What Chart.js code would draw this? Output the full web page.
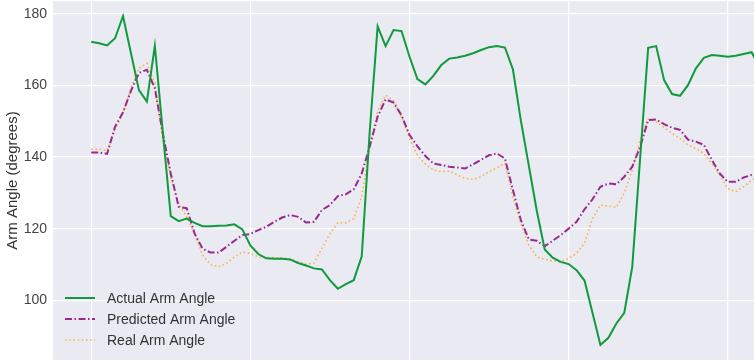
<!DOCTYPE html>
<html>
<head>
<meta charset="utf-8">
<script src="https://cdn.jsdelivr.net/npm/chart.js@4.4.0/dist/chart.umd.min.js"></script>
<style>
    body { margin: 0; background: #ffffff; }
    #chart { display: block; }
</style>
</head>
<body>
<canvas id="chart" width="754" height="362"></canvas>
<script>
// Chart values (one value per frame)
const actualAngle = [
    172.2, 171.8, 171.2, 173.2, 179.4, 169.0, 158.7, 155.5, 171.1, 147.0,
    123.5, 122.1, 122.8, 121.6, 120.7, 120.7, 120.8, 120.9, 121.2, 119.8,
    115.3, 112.9, 111.7, 111.6, 111.6, 111.4, 110.4, 109.7, 108.9, 108.6,
    105.6, 103.2, 104.5, 105.6, 112.3, 147.0, 176.5, 171.0, 175.5, 175.2,
    168.1, 161.8, 160.3, 162.7, 165.7, 167.5, 167.8, 168.3, 169.0, 169.9,
    170.7, 171.0, 170.6, 164.5, 150.2, 137.6, 125.0, 114.2, 111.9, 110.7,
    110.1, 108.4, 105.5, 96.5, 87.5, 89.5, 93.5, 96.5, 109.3, 140.0,
    170.5, 171.0, 161.5, 157.6, 157.1, 160.1, 164.8, 167.7, 168.5, 168.3,
    168.0, 168.3, 168.8, 169.3, 165.0
];
const predictedAngle = [
    141.3, 141.3, 140.9, 148.5, 152.5, 158.5, 163.5, 164.4, 159.2, 146.6,
    135.4, 126.1, 125.7, 118.6, 114.4, 113.3, 113.3, 114.9, 116.6, 118.2,
    118.5, 119.6, 120.5, 121.9, 123.1, 123.8, 123.3, 121.7, 121.9, 125.2,
    126.6, 129.1, 129.6, 131.0, 135.4, 142.9, 151.3, 156.1, 155.2, 151.7,
    146.2, 143.0, 140.3, 138.2, 137.8, 137.3, 137.1, 136.8, 138.0, 139.2,
    140.5, 141.0, 139.6, 130.8, 122.4, 117.0, 116.6, 115.1, 116.6, 118.2,
    120.0, 121.9, 125.4, 128.2, 131.7, 132.6, 132.4, 134.5, 137.3, 142.9,
    150.3, 150.5, 149.2, 148.2, 147.6, 144.9, 144.3, 143.4, 139.2, 135.4,
    133.1, 133.1, 134.3, 135.0, 134.0
];
const realAngle = [
    142.2, 142.2, 141.8, 147.6, 152.2, 159.2, 164.8, 166.2, 160.6, 144.8,
    134.5, 127.0, 123.3, 118.6, 112.6, 110.0, 109.3, 110.3, 112.1, 113.5,
    113.1, 112.1, 111.9, 111.9, 111.8, 111.5, 110.8, 110.1, 110.4, 114.5,
    118.6, 121.6, 121.6, 122.8, 128.9, 142.9, 152.7, 157.3, 155.8, 151.3,
    145.2, 140.5, 138.0, 136.4, 135.9, 136.1, 135.0, 134.0, 133.8, 134.5,
    135.9, 137.0, 138.2, 128.9, 121.4, 115.4, 112.1, 111.4, 111.0, 110.7,
    111.7, 113.1, 115.9, 122.8, 126.6, 126.3, 125.9, 130.0, 136.4, 144.8,
    150.6, 149.9, 148.3, 146.6, 145.2, 143.4, 142.4, 141.0, 138.2, 135.0,
    131.2, 130.3, 131.7, 133.6, 134.5
];
const seriesLabels = ['Actual Arm Angle', 'Predicted Arm Angle', 'Real Arm Angle'];
const yTicks = [100, 120, 140, 160, 180];
const xTicks = [0, 20, 40, 60, 80];
const yTitle = 'Arm Angle (degrees)';

const toPoints = arr => arr.map((v, i) => ({ x: i, y: v }));

// Fill the plot area with the seaborn-like background
const plotBackground = {
    id: 'plotBackground',
    beforeDraw(chart) {
        const { ctx, chartArea } = chart;
        ctx.save();
        ctx.fillStyle = '#eaeaf2';
        ctx.fillRect(chartArea.left, chartArea.top,
            chartArea.right - chartArea.left, chartArea.bottom - chartArea.top);
        ctx.restore();
    }
};

// Legend drawn inside the plot, lower left, without a frame
const innerLegend = {
    id: 'innerLegend',
    afterDatasetsDraw(chart) {
        const { ctx, chartArea } = chart;
        const x0 = chartArea.left + 12;
        const rowH = 21;
        const yStart = chartArea.bottom - 62;
        ctx.save();
        chart.data.datasets.forEach((ds, i) => {
            const y = yStart + i * rowH;
            ctx.beginPath();
            ctx.strokeStyle = ds.borderColor;
            ctx.lineWidth = ds.borderWidth;
            ctx.setLineDash(ds.borderDash || []);
            ctx.moveTo(x0, y);
            ctx.lineTo(x0 + 30, y);
            ctx.stroke();
            ctx.setLineDash([]);
            ctx.fillStyle = '#333333';
            ctx.font = '14px "Liberation Sans", Arial, sans-serif';
            ctx.textBaseline = 'middle';
            ctx.fillText(ds.label, x0 + 42, y + 1);
        });
        ctx.restore();
    }
};

new Chart(document.getElementById('chart'), {
    type: 'line',
    data: {
        datasets: [
            {
                label: seriesLabels[0],
                data: toPoints(actualAngle),
                borderColor: '#0f9a3e',
                borderWidth: 2,
                pointRadius: 0,
                tension: 0
            },
            {
                label: seriesLabels[1],
                data: toPoints(predictedAngle),
                borderColor: '#982a8f',
                borderWidth: 2,
                borderDash: [7, 2.5, 1.5, 2.5],
                pointRadius: 0,
                tension: 0
            },
            {
                label: seriesLabels[2],
                data: toPoints(realAngle),
                borderColor: '#f7b24a',
                borderWidth: 1.6,
                borderDash: [1.6, 2.6],
                pointRadius: 0,
                tension: 0
            }
        ]
    },
    options: {
        responsive: false,
        animation: false,
        devicePixelRatio: 1,
        layout: { padding: { top: 1, bottom: 0, left: 0, right: 0 } },
        plugins: {
            legend: { display: false },
            tooltip: { enabled: false }
        },
        scales: {
            x: {
                type: 'linear',
                min: -4.8,
                max: 83.3,
                afterBuildTicks: scale => {
                    scale.ticks = xTicks.map(v => ({ value: v }));
                },
                afterFit: scale => {
                    scale.height = 2;
                    scale.paddingLeft = 0;
                    scale.paddingRight = 0;
                },
                ticks: { display: false },
                border: { display: false },
                grid: { color: '#ffffff', lineWidth: 1.2, drawTicks: false }
            },
            y: {
                min: 83.3,
                max: 183.6,
                afterBuildTicks: scale => {
                    scale.ticks = yTicks.map(v => ({ value: v }));
                },
                afterFit: scale => {
                    scale.width = 53;
                    scale.paddingTop = 0;
                    scale.paddingBottom = 0;
                },
                ticks: {
                    color: '#444444',
                    padding: 6,
                    font: { family: '"Liberation Sans", Arial, sans-serif', size: 14 }
                },
                border: { display: false },
                grid: { color: '#ffffff', lineWidth: 1.2, drawTicks: false },
                title: {
                    display: true,
                    text: yTitle,
                    color: '#333333',
                    padding: { top: 4, bottom: 0 },
                    font: { family: '"Liberation Sans", Arial, sans-serif', size: 15 }
                }
            }
        }
    },
    plugins: [plotBackground, innerLegend]
});
</script>
</body>
</html>
